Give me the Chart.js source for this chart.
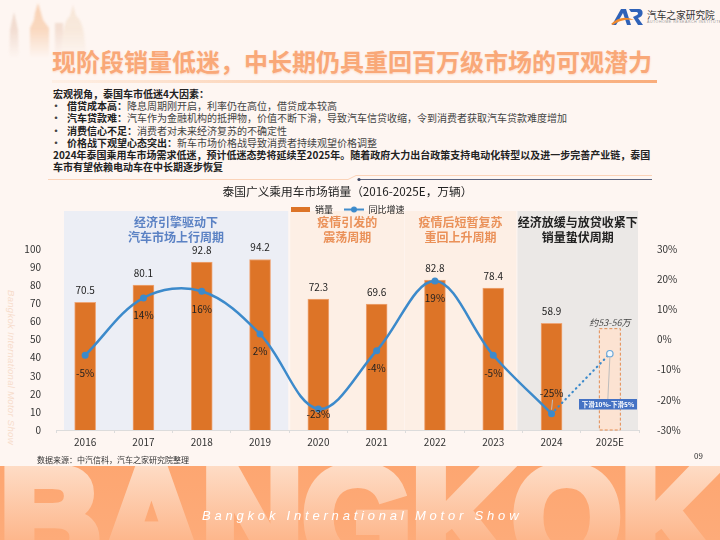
<!DOCTYPE html>
<html>
<head>
<meta charset="utf-8">
<script src="https://cdn.jsdelivr.net/npm/chart.js@4"></script>
<style>
  * { margin: 0; padding: 0; box-sizing: border-box; }
  html, body { width: 720px; height: 540px; overflow: hidden; }
  body { position: relative; background: #fef6f2; font-family: "Noto Sans CJK SC", "Noto Sans", sans-serif; color: #222; }
  #chart { position: absolute; left: 0; top: 0; width: 720px; height: 540px; }
  .abs { position: absolute; white-space: nowrap; }
  #headline { left: 52px; top: 45px; font-size: 24px; line-height: 32px; font-weight: 700; color: #f9a878; text-shadow: 0 1px 2px #fcd9c3; }
  #headrule { left: 52px; top: 80px; width: 605px; height: 3px; background: linear-gradient(90deg, #fef0e6, #fbc9a6 50%, #f9ad7c); }
  #notes { left: 53px; top: 88px; width: 610px; font-size: 10px; line-height: 12.2px; }
  #notes div { white-space: nowrap; }
  #notes .li { padding-left: 14px; position: relative; color: #444; }
  #notes .li::before { content: "·"; position: absolute; left: -2px; font-weight: 700; }
  #notes b { font-weight: 700; color: #222; }
  #source { left: 37px; top: 454px; font-size: 8px; line-height: 12px; color: #333; }
  #pageno { left: 694px; top: 450px; font-size: 8px; line-height: 12px; color: #333; }
  #side { left: 10px; top: 290px; font-size: 9.5px; line-height: 12px; font-style: italic; color: #f7dccb; letter-spacing: .3px; transform-origin: 0 0; transform: translateX(7px) rotate(90deg); font-family: "Liberation Sans", sans-serif; }
  #banner { left: 0; top: 466px; width: 720px; height: 74px; overflow: hidden; background: linear-gradient(180deg, #fda671, #fdab79); }
  #banner svg { position: absolute; left: 0; top: 0; }
  #show { left: 202px; top: 508px; font-family: "Liberation Sans", sans-serif; font-style: italic; font-size: 13px; line-height: 16px; letter-spacing: 3.8px; color: #fff; }
  #brand { left: 647px; top: 9px; font-size: 9.7px; line-height: 12px; color: #333; }
  #brand2 { left: 647px; top: 20px; font-family: "Liberation Sans", sans-serif; font-size: 3.6px; line-height: 5px; letter-spacing: .5px; color: #999; }
</style>
</head>
<body>
<svg class="abs" style="left:0;top:0" width="120" height="70">
  <defs>
    <filter id="soft" x="-20%" y="-20%" width="140%" height="140%"><feGaussianBlur stdDeviation="0.9"/></filter>
    <linearGradient id="fade" gradientUnits="userSpaceOnUse" x1="0" y1="0" x2="0" y2="58">
      <stop offset="0" stop-color="#fff" stop-opacity=".85"/>
      <stop offset=".5" stop-color="#fff" stop-opacity=".7"/>
      <stop offset=".75" stop-color="#fff" stop-opacity=".35"/>
      <stop offset="1" stop-color="#fff" stop-opacity="0"/>
    </linearGradient>
    <mask id="fadeMask" maskUnits="userSpaceOnUse" x="0" y="0" width="120" height="70"><rect width="120" height="70" fill="url(#fade)"/></mask>
  </defs>
  <g filter="url(#soft)" mask="url(#fadeMask)">
    <path d="M14 12 L18 30 L19 70 L9 70 L10 30 Z" fill="#ecd2c3"/>
    <path d="M38 3 L41 13 L43 20 L49 28 L49 70 L30 70 L30 28 L34 20 L35 13 Z" fill="#f7cba9"/>
    <rect x="55" y="23" width="8" height="47" fill="#efd5c6"/>
    <path d="M73 5 L76 16 C82 20 86 32 86 70 L61 70 C61 32 65 20 70 16 Z" fill="#f5e3d2"/>
  </g>
</svg>

<svg class="abs" style="left:610px;top:7px" width="36" height="20">
  <path d="M2 18 L11 2 L16 2 L21 18 L17 18 L13 6 L6 18 Z" fill="#2f62b8"/>
  <path d="M19 2 L29 2 C34 2 34 10 28 11 L33 18 L28 18 L23 10 L27 8 C29 7 28 5 26 5 L21 5 Z" fill="#2f62b8"/>
  <path d="M1 17 C8 10 16 9 24 13 C17 12 9 13 3 18 Z" fill="#f08a2c"/>
</svg>
<div class="abs" id="brand">汽车之家研究院</div>
<div class="abs" id="brand2">AUTOHOME RESEARCH INSTITUTE</div>

<div class="abs" id="headline">现阶段销量低迷，中长期仍具重回百万级市场的可观潜力</div>
<div class="abs" id="headrule"></div>
<div class="abs" id="notes">
  <div><b>宏观视角，泰国车市低迷4大因素：</b></div>
  <div class="li"><b>借贷成本高：</b>降息周期刚开启，利率仍在高位，借贷成本较高</div>
  <div class="li"><b>汽车贷款难：</b>汽车作为金融机构的抵押物，价值不断下滑，导致汽车信贷收缩，令到消费者获取汽车贷款难度增加</div>
  <div class="li"><b>消费信心不足：</b>消费者对未来经济复苏的不确定性</div>
  <div class="li"><b>价格战下观望心态突出：</b>新车市场价格战导致消费者持续观望价格调整</div>
  <div><b>2024年泰国乘用车市场需求低迷，预计低迷态势将延续至2025年。随着政府大力出台政策支持电动化转型以及进一步完善产业链，泰国</b></div>
  <div><b>车市有望依赖电动车在中长期逐步恢复</b></div>
</div>

<svg class="abs" style="left:0;top:170px" width="720" height="14">
  <path d="M48 9.5 H348 L356 5.5 H652" fill="none" stroke="#fbd3b8" stroke-width="1"/>
  <path d="M359 9.5 H652" fill="none" stroke="#5d6580" stroke-width="1"/>
  <circle cx="359" cy="9.5" r="1.6" fill="#3c4560"/>
</svg>

<div class="abs" id="side">Bangkok International Motor Show</div>

<canvas id="chart" width="720" height="540"></canvas>

<div class="abs" id="source">数据来源：中汽信科，汽车之家研究院整理</div>
<div class="abs" id="pageno">09</div>

<div class="abs" id="banner">
  <svg width="720" height="74">
    <defs>
      <linearGradient id="letters" gradientUnits="userSpaceOnUse" x1="0" y1="0" x2="0" y2="74">
        <stop offset="0" stop-color="#fedcc5"/>
        <stop offset="1" stop-color="#fdb78c"/>
      </linearGradient>
    </defs>
    <text x="0" y="101" textLength="722" lengthAdjust="spacingAndGlyphs" font-family="Liberation Sans" font-weight="700" font-size="143" fill="url(#letters)" stroke="url(#letters)" stroke-width="10">BANGKOK</text>
  </svg>
</div>
<div class="abs" id="show">Bangkok International Motor Show</div>

<script>
// values
const years = ['2016', '2017', '2018', '2019', '2020', '2021', '2022', '2023', '2024', '2025E'];
const sales = [70.5, 80.1, 92.8, 94.2, 72.3, 69.6, 82.8, 78.4, 58.9, 56];
const growth = [-5.2, 13.8, 16, 1.8, -23, -3.7, 19.4, -5.2, -24.6, null];
const forecastGrowth = [null, null, null, null, null, null, null, null, -24.6, -4.7];
const salesTicks = [0, 10, 20, 30, 40, 50, 60, 70, 80, 90, 100];
const growthTicks = [-30, -20, -10, 0, 10, 20, 30];
const estimateLabel = '约53-56万';
const calloutLabel = '下滑10%-下滑5%';

const ORANGE = '#dd7427';
const BLUE = '#3c8acb';
const lastIdx = years.length - 1;

// shaded period bands behind the bars
const bands = [
  { first: 0, last: 3, padL: 8, padR: -1, fill: '#eceef5', color: '#5b82c4', lines: ['经济引擎驱动下', '汽车市场上行周期'] },
  { first: 4, last: 5, padL: 1, padR: -1.5, fill: '#fdefe5', color: '#ea9159', lines: ['疫情引发的', '震荡周期'] },
  { first: 6, last: 7, padL: -1, padR: -6, fill: '#fdefe5', color: '#ea9159', lines: ['疫情后短暂复苏', '重回上升周期'] },
  { first: 8, last: 9, padL: -5, padR: -1, fill: '#ebe8e6', color: '#222', lines: ['经济放缓与放贷收紧下', '销量蛰伏周期'] }
];

// beforeDraw so the legend stays on top of the bands
const bandPlugin = {
  id: 'bands',
  beforeDraw(chart) {
    const { ctx, scales: { x, y } } = chart;
    const step = x.getPixelForValue(1) - x.getPixelForValue(0);
    const top = 211;
    ctx.save();
    bands.forEach(b => {
      const l = x.getPixelForValue(b.first) - step / 2 + b.padL;
      const r = x.getPixelForValue(b.last) + step / 2 + b.padR;
      ctx.fillStyle = b.fill;
      ctx.fillRect(l, top, r - l, y.bottom - top);
      ctx.fillStyle = b.color;
      ctx.font = '700 12px "Noto Sans CJK SC"';
      ctx.textAlign = 'center';
      ctx.textBaseline = 'middle';
      b.lines.forEach((t, i) => ctx.fillText(t, (l + r) / 2, 222 + i * 15));
    });
    ctx.restore();
  }
};

// dashed outline on the forecast bar, Chart.js bars have no borderDash
const dashedBarPlugin = {
  id: 'dashedBar',
  afterDatasetDraw(chart, args) {
    if (args.index !== 0) return;
    const bar = args.meta.data[lastIdx];
    const { ctx } = chart;
    ctx.save();
    ctx.strokeStyle = '#e58a4e';
    ctx.lineWidth = 1;
    ctx.setLineDash([3, 2]);
    ctx.strokeRect(bar.x - bar.width / 2, bar.y, bar.width, bar.base - bar.y);
    ctx.restore();
  }
};

const labelPlugin = {
  id: 'valueLabels',
  afterDatasetsDraw(chart) {
    const { ctx } = chart;
    const bars = chart.getDatasetMeta(0).data;
    const points = chart.getDatasetMeta(1).data;
    const hollow = chart.getDatasetMeta(2).data[lastIdx];
    ctx.save();
    ctx.textAlign = 'center';
    ctx.textBaseline = 'middle';
    ctx.font = '10px "Noto Sans CJK SC"';
    ctx.fillStyle = '#222';
    sales.forEach((v, i) => {
      if (i === lastIdx) return;
      ctx.fillText(v.toFixed(1), bars[i].x, bars[i].y - 12);
    });
    growth.forEach((v, i) => {
      if (v === null) return;
      let dy = 17.5;
      if (i === 4) dy = 5;
      if (i === 8) dy = -21;
      ctx.fillText(Math.round(v) + '%', points[i].x, points[i].y + dy);
    });
    ctx.font = 'italic 9px "Noto Sans CJK SC"';
    ctx.fillStyle = '#444';
    ctx.fillText(estimateLabel, bars[lastIdx].x, bars[lastIdx].y - 6.5);

    // leader lines and the forecast callout
    ctx.strokeStyle = '#bdbdbd';
    ctx.lineWidth = 1;
    ctx.beginPath();
    ctx.moveTo(points[8].x, points[8].y - 4);
    ctx.lineTo(points[8].x + 1, points[8].y - 14);
    ctx.moveTo(hollow.x, hollow.y + 4);
    ctx.lineTo(hollow.x - 2, 399);
    ctx.stroke();
    ctx.fillStyle = '#4472c4';
    ctx.fillRect(579, 399, 58, 10.5);
    ctx.fillStyle = '#fff';
    ctx.font = '700 6.5px "Noto Sans CJK SC"';
    ctx.fillText(calloutLabel, 608, 404.5);
    ctx.restore();
  }
};

// legend swatches
function swatch(w, h, draw) {
  const c = document.createElement('canvas');
  c.width = w;
  c.height = h;
  draw(c.getContext('2d'));
  return c;
}
const barSwatch = swatch(19, 5, g => { g.fillStyle = ORANGE; g.fillRect(0, 0, 19, 5); });
const lineSwatch = swatch(20, 7, g => {
  g.strokeStyle = BLUE;
  g.lineWidth = 2;
  g.beginPath();
  g.moveTo(0, 3.5);
  g.lineTo(20, 3.5);
  g.stroke();
  g.fillStyle = BLUE;
  g.beginPath();
  g.arc(10, 3.5, 3, 0, Math.PI * 2);
  g.fill();
});

new Chart(document.getElementById('chart'), {
  type: 'bar',
  data: {
    labels: years,
    datasets: [
      {
        type: 'bar',
        label: '销量',
        data: sales,
        yAxisID: 'y',
        order: 2,
        barThickness: 21,
        backgroundColor: sales.map((v, i) => i === lastIdx ? '#fce3d2' : ORANGE),
        borderColor: sales.map((v, i) => i === lastIdx ? 'rgba(0,0,0,0)' : '#eea677'),
        borderWidth: 1
      },
      {
        type: 'line',
        label: '同比增速',
        data: growth,
        yAxisID: 'y1',
        order: 0,
        borderColor: BLUE,
        backgroundColor: BLUE,
        borderWidth: 2.5,
        tension: 0.36,
        pointRadius: 3.5,
        pointBorderWidth: 0,
        spanGaps: false,
        clip: false
      },
      {
        type: 'line',
        label: '预测',
        data: forecastGrowth,
        yAxisID: 'y1',
        order: 1,
        borderColor: BLUE,
        borderWidth: 2.2,
        borderCapStyle: 'round',
        borderDash: [0.5, 4.5],
        pointRadius: forecastGrowth.map((v, i) => i === lastIdx ? 3.2 : 0),
        pointBackgroundColor: '#f4f8fc',
        pointBorderColor: '#6ba7d8',
        pointBorderWidth: 1.2,
        clip: false
      }
    ]
  },
  options: {
    responsive: false,
    animation: false,
    layout: { padding: { top: 185, bottom: 90, left: 0, right: 0 } },
    plugins: {
      tooltip: { enabled: false },
      title: {
        display: true,
        text: '泰国广义乘用车市场销量（2016-2025E，万辆）',
        fullSize: false,
        color: '#222',
        font: { family: '"Noto Sans CJK SC"', size: 11.7, weight: 'normal' },
        padding: { top: 0, bottom: -5 }
      },
      legend: {
        display: true,
        position: 'top',
        fullSize: false,
        labels: {
          usePointStyle: true,
          pointStyleWidth: 20,
          boxHeight: 7,
          padding: 11,
          color: '#222',
          font: { family: '"Noto Sans CJK SC"', size: 9 },
          generateLabels: () => [
            { text: '销量', pointStyle: barSwatch, fontColor: '#222', lineWidth: 0, datasetIndex: 0 },
            { text: '同比增速', pointStyle: lineSwatch, fontColor: '#222', lineWidth: 0, datasetIndex: 1 }
          ]
        }
      }
    },
    scales: {
      x: {
        offset: true,
        afterFit: s => { s.height = 20; },
        border: { color: '#dcdcdc' },
        grid: { drawOnChartArea: false, drawTicks: true, tickLength: 3, color: '#dcdcdc' },
        ticks: { color: '#333', padding: 3, maxRotation: 0, font: { family: '"Noto Sans CJK SC"', size: 10 } }
      },
      // empty top axis, only holds the gap between legend and plot
      xGap: {
        type: 'linear',
        axis: 'x',
        position: 'top',
        min: 0,
        max: 1,
        afterFit: s => { s.height = 25; },
        border: { display: false },
        grid: { display: false },
        ticks: { display: false }
      },
      y: {
        position: 'left',
        min: 0,
        max: 100,
        afterFit: s => { s.width = 56; },
        afterBuildTicks: s => { s.ticks = salesTicks.map(v => ({ value: v })); },
        border: { display: false },
        grid: { display: false },
        ticks: { color: '#333', padding: 7, font: { family: '"Noto Sans CJK SC"', size: 10 } }
      },
      y1: {
        position: 'right',
        min: -30,
        max: 30,
        afterFit: s => { s.width = 81; },
        afterBuildTicks: s => { s.ticks = growthTicks.map(v => ({ value: v })); },
        border: { display: false },
        grid: { display: false },
        ticks: {
          color: '#333',
          padding: 10,
          font: { family: '"Noto Sans CJK SC"', size: 10 },
          callback: v => v + '%'
        }
      }
    }
  },
  plugins: [bandPlugin, dashedBarPlugin, labelPlugin]
});
</script>
</body>
</html>
